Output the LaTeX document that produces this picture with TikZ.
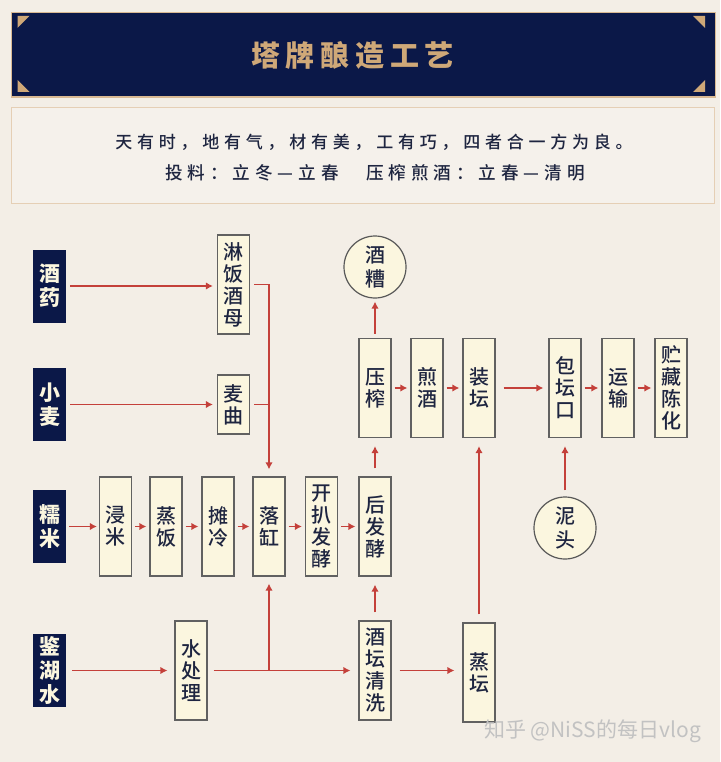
\documentclass[tikz,border=0pt]{standalone}
\usepackage{fontspec}
\setmainfont{Noto Sans CJK SC}
\newfontfamily\introfont[LetterSpace=28]{Noto Sans CJK SC Medium}
\newfontfamily\headfont[LetterSpace=20]{Noto Sans CJK SC}
\newfontfamily\boxfont{Noto Sans CJK SC Medium}
\usetikzlibrary{arrows.meta}
\definecolor{paper}{HTML}{F3EEE6}
\definecolor{navy}{HTML}{0B1848}
\definecolor{gold}{HTML}{CFA878}
\definecolor{cream}{HTML}{FBF6DF}
\definecolor{inkblue}{HTML}{1E2540}
\definecolor{flowred}{HTML}{C4403A}
\tikzset{
    procbox/.style={draw=black!62, line width=1.2pt, fill=cream, text=inkblue, minimum width=32pt, inner sep=0pt, align=center, font=\boxfont\fontsize{20}{22}\selectfont},
    tallbox/.style={procbox, minimum height=99pt},
    lowbox/.style={procbox, minimum height=59pt},
    srcbox/.style={fill=navy, text=cream, minimum width=33pt, minimum height=73pt, inner sep=0pt, align=center, font=\fontsize{21}{24}\selectfont\bfseries},
    roundbox/.style={circle, draw=black!65, line width=1.2pt, fill=cream, text=inkblue, minimum size=62pt, inner sep=0pt, align=center, font=\boxfont\fontsize{20}{24}\selectfont},
    flow/.style={draw=flowred, line width=1.4pt, shorten <=3pt, shorten >=3pt, -{Latex[length=7pt,width=7.5pt]}},
    flowline/.style={draw=flowred, line width=1.4pt}
}
\begin{document}
\begin{tikzpicture}[x=1pt, y=-1pt]
    \useasboundingbox (0,0) rectangle (720,762);
    \fill[paper] (0,0) rectangle (720,762);

    % banner
    \draw[draw=gold!80, line width=1.2pt, fill=navy] (11.5,12.5) rectangle (715.5,97);
    \foreach \cx/\cy/\sx/\sy in {17.5/16/1/1, 705/16/-1/1, 17.5/92/1/-1, 705/92/-1/-1} {
        \fill[gold] (\cx,\cy) -- ++(\sx*12,0) -- ++(-\sx*12,\sy*12) -- cycle;
    }
    \node[text=gold, font=\headfont\fontsize{29}{30}\selectfont\bfseries] (title) at (352.5,55) {塔牌酿造工艺};

    % intro panel
    \draw[draw=gold!55, line width=1pt, fill=paper!80!white] (11.5,108) rectangle (714.5,203);
    \node[text=inkblue, font=\introfont\fontsize{17}{20}\selectfont] (line1) at (374,142) {天有时，地有气，材有美，工有巧，四者合一方为良。};
    \node[text=inkblue, font=\introfont\fontsize{17.6}{20}\selectfont] (line2) at (375,173) {投料：立冬—立春　压榨煎酒：立春—清明};

    % raw materials
    \foreach \name/\y/\txt in {jy/286/{酒\\药}, xm/404.5/{小\\麦}, nm/526.5/{糯\\米}, jh/670.5/{鉴\\湖\\水}} {
        \node[srcbox] (\name) at (49.5,\y) {\txt};
    }

    % middle row
    \foreach \name/\x/\txt in {jm/115.5/{浸\\米}, zf/166/{蒸\\饭}, tl/218/{摊\\冷}, lg/269/{落\\缸}, kp/321.5/{开\\扒\\发\\酵}, hf/375/{后\\发\\酵}} {
        \node[tallbox] (\name) at (\x,526.5) {\txt};
    }

    % upper row
    \foreach \name/\x/\txt in {yz/375/{压\\榨}, jj/427/{煎\\酒}, zt/479/{装\\坛}, bt/565/{包\\坛\\口}, ys/618/{运\\输}, zc/671/{贮\\藏\\陈\\化}} {
        \node[tallbox] (\name) at (\x,388) {\txt};
    }

    \node[tallbox] (lf) at (233.5,284.5) {淋\\饭\\酒\\母};
    \node[lowbox] (mq) at (233.5,404.5) {麦\\曲};
    \node[tallbox] (sc) at (191,670.5) {水\\处\\理};
    \node[tallbox] (jt) at (375,670.5) {酒\\坛\\清\\洗};
    \node[tallbox] (zg) at (479,672.5) {蒸\\坛};
    \node[roundbox] (jz) at (375,267) {酒\\糟};
    \node[roundbox] (nt) at (565,528) {泥\\头};

    % chains
    \foreach \a/\b in {jm/zf, zf/tl, tl/lg, lg/kp, kp/hf, yz/jj, jj/zt, bt/ys, ys/zc} {
        \draw[flow] (\a) -- (\b);
    }
    \draw[flow, shorten <=8pt, shorten >=5pt] (zt) -- (bt);

    % inputs
    \draw[flow, shorten <=4pt, shorten >=4pt] (jy.east) -- (jy.east -| lf.west);
    \draw[flow, shorten <=4pt, shorten >=4pt] (xm.east) -- (xm.east -| mq.west);
    \draw[flow, shorten <=3pt, shorten >=2pt] (nm) -- (jm);
    \draw[flow, shorten <=6pt, shorten >=7pt] (jh) -- (sc);

    % into the vat
    \draw[flow, shorten <=4pt, shorten >=7pt] (lf.east) -| (lg.north);
    \draw[flowline, shorten <=4pt] (mq.east) -- (mq.east -| lg.north);

    % water
    \coordinate (wj) at (sc.east -| lg.south);
    \draw[flow, shorten <=6pt, shorten >=8pt] (sc) -- (jt);
    \draw[flow, shorten <=0pt, shorten >=7pt] (wj) -- (lg.south);
    \draw[flow, shorten <=8pt, shorten >=8pt] (jt.east) -- (jt.east -| zg.west);

    % going up
    \draw[flow, shorten <=8pt, shorten >=8pt] (jt) -- (hf);
    \draw[flow, shorten <=8pt, shorten >=8pt] (hf) -- (yz);
    \draw[flow, shorten <=4pt, shorten >=3pt] (yz) -- (jz);
    \draw[flow, shorten <=8pt, shorten >=8pt] (zg) -- (zt);
    \draw[flow, shorten <=6pt, shorten >=8pt] (nt) -- (bt);

    % mark
    \node[text=black!24, font=\fontsize{21}{22}\selectfont] (mark) at (592.5,731) {知乎 @NiSS的每日vlog};
\end{tikzpicture}
\end{document}
